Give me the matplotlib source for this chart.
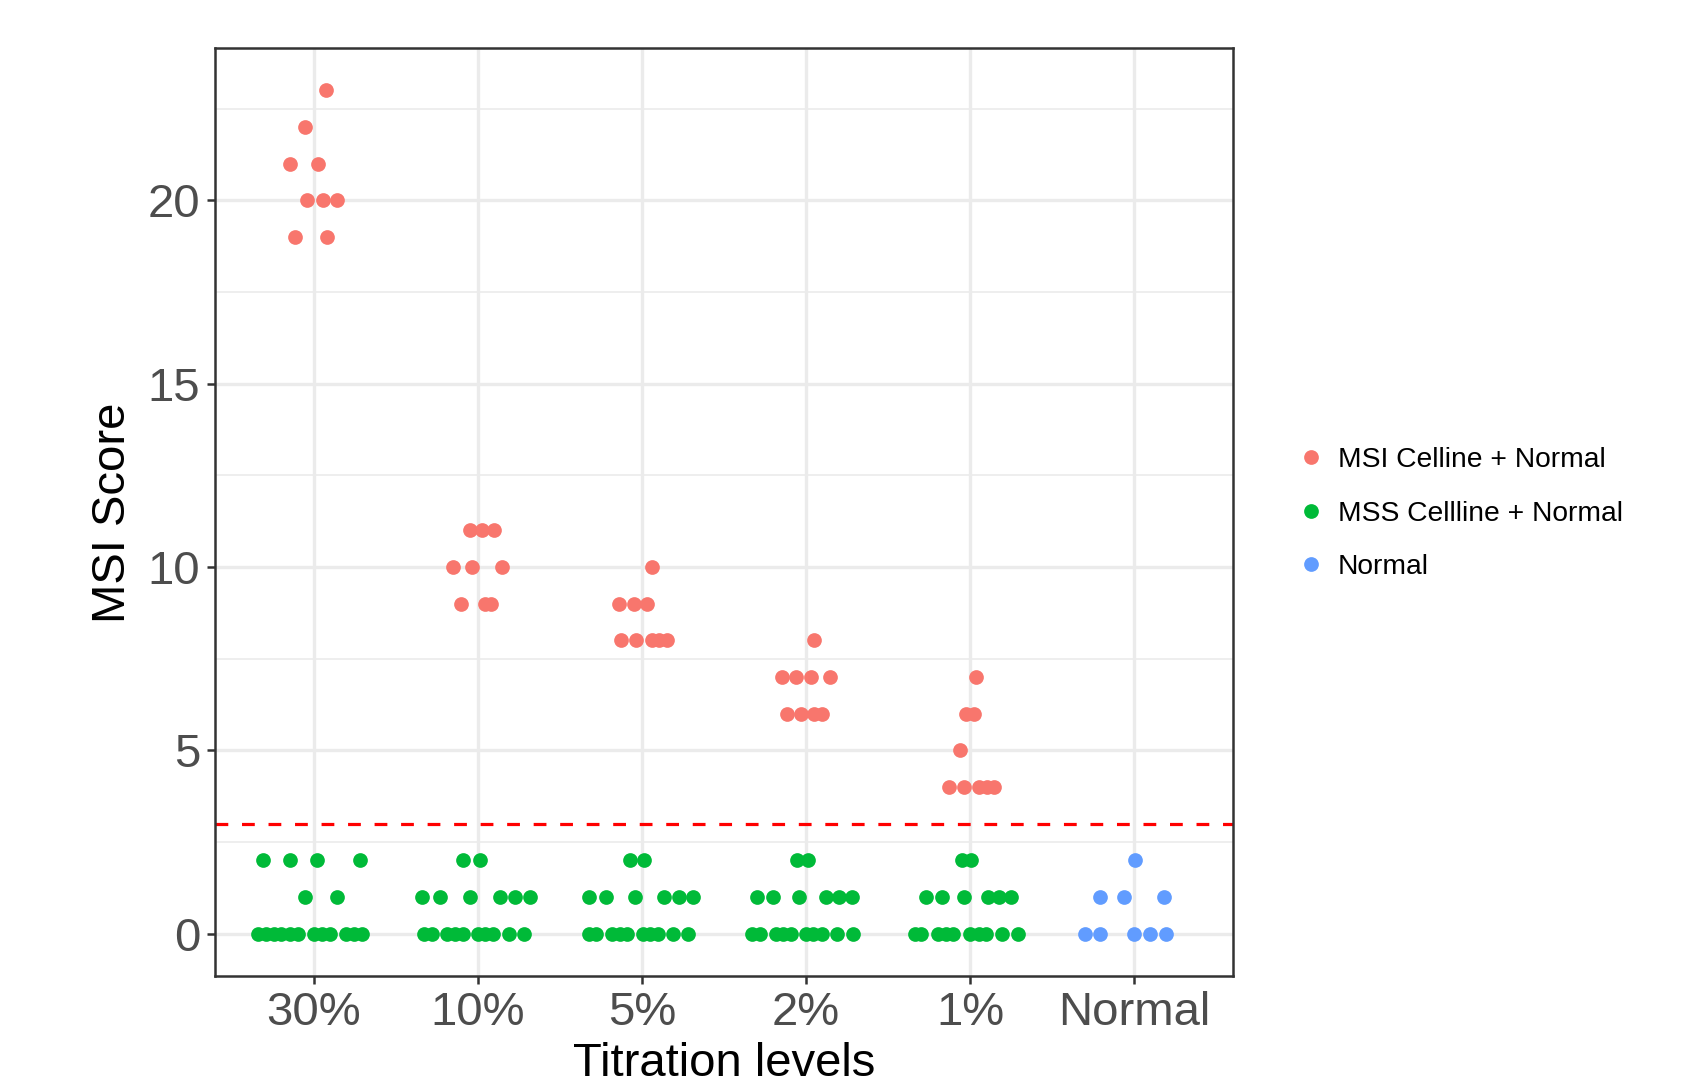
import numpy as np
import matplotlib
matplotlib.use("Agg")
import matplotlib.pyplot as plt
from matplotlib.lines import Line2D

plt.rcParams["font.family"] = ["Liberation Sans", "DejaVu Sans"]

# categories on the x axis
levels = ["30%", "10%", "5%", "2%", "1%", "Normal"]

# MSI cell line + normal (one list per titration level, Normal has none)
msi_scores = [
    [23, 22, 21, 21, 20, 20, 20, 19, 19],
    [11, 11, 11, 10, 10, 10, 9, 9, 9],
    [10, 9, 9, 9, 8, 8, 8, 8, 8],
    [8, 7, 7, 7, 7, 6, 6, 6, 6],
    [7, 6, 6, 5, 4, 4, 4, 4, 4],
]
# horizontal jitter, in category units
msi_jitter = [
    [0.079, -0.05, -0.146, 0.03, -0.037, 0.055, 0.146, -0.11, 0.085],
    [-0.046, 0.027, 0.100, -0.150, -0.036, 0.146, -0.101, 0.045, 0.080],
    [0.061, -0.138, -0.051, 0.034, -0.126, -0.033, 0.061, 0.107, 0.154],
    [0.051, -0.148, -0.059, 0.032, 0.144, -0.118, -0.033, 0.051, 0.095],
    [0.032, -0.025, 0.020, -0.065, -0.129, -0.038, 0.055, 0.102, 0.146],
]

# MSS cell line + normal
mss_scores = [
    [2] * 4 + [1] * 2 + [0] * 12,
    [2] * 2 + [1] * 6 + [0] * 10,
    [2] * 2 + [1] * 6 + [0] * 10,
    [2] * 2 + [1] * 6 + [0] * 10,
    [2] * 2 + [1] * 6 + [0] * 10,
]
mss_jitter = [
    [-0.309, -0.144, 0.020, 0.286, -0.049, 0.146,
     -0.339, -0.292, -0.243, -0.195, -0.144, -0.097, 0.002, 0.050, 0.099, 0.196, 0.245, 0.294],
    [-0.089, 0.012, -0.341, -0.227, -0.047, 0.136, 0.229, 0.316,
     -0.327, -0.280, -0.184, -0.136, -0.087, 0.002, 0.047, 0.095, 0.189, 0.282],
    [-0.075, 0.014, -0.325, -0.217, -0.041, 0.134, 0.223, 0.311,
     -0.322, -0.278, -0.183, -0.136, -0.091, 0.004, 0.052, 0.099, 0.188, 0.283],
    [-0.057, 0.010, -0.300, -0.199, -0.041, 0.124, 0.201, 0.282,
     -0.327, -0.282, -0.185, -0.138, -0.093, -0.002, 0.045, 0.094, 0.189, 0.285],
    [-0.049, 0.006, -0.272, -0.175, -0.038, 0.105, 0.172, 0.245,
     -0.339, -0.298, -0.197, -0.150, -0.106, 0.000, 0.050, 0.097, 0.192, 0.290],
]

# Normal only
normal_scores = [2, 1, 1, 1, 0, 0, 0, 0, 0]
normal_jitter = [0.006, -0.213, -0.065, 0.177, -0.304, -0.207, -0.004, 0.093, 0.191]

cutoff = 3

series_names = ["MSI Celline + Normal", "MSS Cellline + Normal", "Normal"]
colors = ["#F8766D", "#00BA38", "#619CFF"]

fig = plt.figure(figsize=(16.88, 10.81), dpi=100)
ax = fig.add_axes([215 / 1688, 105 / 1081, 1018 / 1688, 928 / 1081])

size = 112
for i, (sc, jt) in enumerate(zip(msi_scores, msi_jitter)):
    ax.scatter(i + np.array(jt), sc, s=size, color=colors[0], linewidths=0, zorder=3)
for i, (sc, jt) in enumerate(zip(mss_scores, mss_jitter)):
    ax.scatter(i + np.array(jt), sc, s=size, color=colors[1], linewidths=0, zorder=3)
ax.scatter(levels.index("Normal") + np.array(normal_jitter), normal_scores,
           s=size, color=colors[2], linewidths=0, zorder=3)

ax.axhline(cutoff, color="#FF0000", lw=2.3, dashes=(4, 4.3), zorder=2)

ax.set_xlim(-0.6, len(levels) - 0.4)
ax.set_ylim(-1.15, 24.15)
ax.set_xticks(range(len(levels)))
ax.set_xticklabels(levels)
ax.set_yticks([0, 5, 10, 15, 20])
ax.set_yticks([2.5, 7.5, 12.5, 17.5, 22.5], minor=True)

ax.grid(which="major", color="#EBEBEB", lw=2.4, zorder=0)
ax.grid(which="minor", axis="y", color="#EBEBEB", lw=1.2, zorder=0)
ax.set_axisbelow(True)

for sp in ax.spines.values():
    sp.set_color("#333333")
    sp.set_linewidth(1.8)

ax.tick_params(which="major", length=5.8, width=1.8, color="#333333",
               labelsize=34, labelcolor="#4D4D4D", pad=5)
ax.tick_params(which="minor", length=0)

fig.text(724 / 1688, 5 / 1081, "Titration levels", ha="center", va="baseline",
         fontsize=34, color="black")
fig.text(113 / 1688, (1081 - 513) / 1081, "MSI Score", ha="center", va="center",
         rotation=90, fontsize=34, color="black")

handles = [Line2D([], [], ls="none", marker="o", markersize=10.6,
                  markerfacecolor=c, markeredgewidth=0) for c in colors]
fig.legend(handles, series_names, loc="center left",
           bbox_to_anchor=(1297 / 1688, (1081 - 513.5) / 1081),
           frameon=False, fontsize=20.3, handlelength=1.0, handletextpad=0.45,
           labelspacing=0.98, borderpad=0, borderaxespad=0)

fig.savefig("out.png", dpi=100)
